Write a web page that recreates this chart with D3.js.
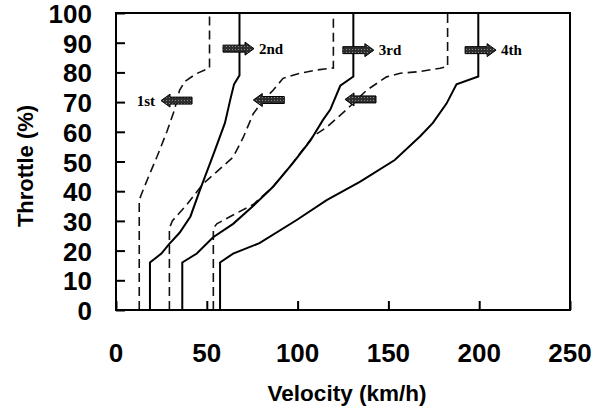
<!DOCTYPE html>
<html>
<head>
<meta charset="utf-8">
<script src="https://cdn.jsdelivr.net/npm/d3@7"></script>
<style>
  html, body { margin: 0; padding: 0; background: #fff; }
  svg { display: block; }
</style>
</head>
<body>
<svg id="chart" width="607" height="409"></svg>
<script>
// Shift schedule: velocity (km/h) vs throttle (%)
const xTicks = [0, 50, 100, 150, 200, 250];
const yTicks = [0, 10, 20, 30, 40, 50, 60, 70, 80, 90, 100];

// Upshift lines (solid): [velocity, throttle]
const up12 = [[18.7,0],[18.7,16],[25,19],[29,22],[35,26],[41,31.5],[46,40],[54,53],[60,63],[63,71],[65,76],[68,79],[68,100]];
const up23 = [[36.5,0],[36.5,16],[44.5,19],[53.5,24.5],[64.5,29],[75.5,35],[86.5,41.5],[97.5,49.5],[107,57],[114,64],[118,67.5],[123.5,75.5],[130.7,78.6],[130.7,100]];
const up34 = [[57.3,0],[57.3,16],[64.5,19],[79,22.5],[99.5,30.3],[116,37],[134.5,43.2],[153.5,50.5],[167.5,58.5],[174.5,63],[182,69.5],[187.5,76],[199.5,78.6],[199.5,100]];

// Downshift lines (dashed)
const down21 = [[12.8,0],[12.8,37],[14,39],[18,45],[22.5,51.5],[28,60],[32,67],[35,74],[38,77],[44,79.5],[51.5,81.5],[51.5,100]];
const down32 = [[29.4,0],[29.4,27.5],[31,30],[39,35.5],[48,42.5],[54.5,46],[64.5,51.5],[70,58],[75.5,66],[81,70.5],[86.5,74],[92,78],[101,79.7],[110.5,80.8],[119.7,81.5],[119.7,100]];
const down43 = [[53.6,0],[53.6,27.5],[55.5,29],[64.5,32],[75.5,35.5],[86.5,41.5],[96,48.5],[108.5,58.5],[116,61.5],[127,67.5],[138,74],[149,78.5],[156.5,79.7],[167.5,80.3],[178.5,81.4],[182.6,82],[182.6,100]];

const solidSeries = [up12, up23, up34];
const dashedSeries = [down21, down32, down43];

// Gear arrows: tip velocity, throttle, direction (+1 right, -1 left), label
const arrowTips = [24.8, 76, 75.6, 142, 126.1, 209.3];
const arrowThrottle = [70.5, 88, 70.7, 87.5, 70.9, 87.5];
const arrowDir = [-1, 1, -1, 1, -1, 1];
const arrowLabels = ["1st", "2nd", "", "3rd", "", "4th"];

const svg = d3.select("#chart");
const plotLeft = 116, plotRight = 570, plotTop = 13, plotBottom = 310;

const x = d3.scaleLinear().domain([0, 250]).range([plotLeft, plotRight]);
const y = d3.scaleLinear().domain([0, 100]).range([plotBottom, plotTop]);

// Inward tick marks
const xAxis = svg.append("g").attr("transform", `translate(0,${plotBottom})`)
  .call(d3.axisBottom(x).tickValues(xTicks).tickSize(-9).tickFormat(""));
xAxis.select(".domain").remove();
xAxis.selectAll("line").attr("stroke", "#000").attr("stroke-width", 2);

const yAxis = svg.append("g").attr("transform", `translate(${plotLeft},0)`)
  .call(d3.axisLeft(y).tickValues(yTicks).tickSize(-9).tickFormat(""));
yAxis.select(".domain").remove();
yAxis.selectAll("line").attr("stroke", "#000").attr("stroke-width", 2);

// Tick labels
const tickFont = "'Liberation Sans', Arial, sans-serif";
svg.append("g").selectAll("text").data(xTicks).join("text")
  .attr("x", d => x(d)).attr("y", 353)
  .attr("text-anchor", "middle").attr("dominant-baseline", "central")
  .attr("font-family", tickFont).attr("font-weight", "bold").attr("font-size", 26)
  .text(d => d);

svg.append("g").selectAll("text").data(yTicks).join("text")
  .attr("x", 92).attr("y", d => y(d) + 1)
  .attr("text-anchor", "end").attr("dominant-baseline", "central")
  .attr("font-family", tickFont).attr("font-weight", "bold").attr("font-size", 26)
  .text(d => d);

// Axis titles
svg.append("text")
  .attr("x", 347).attr("y", 401)
  .attr("text-anchor", "middle")
  .attr("font-family", tickFont).attr("font-weight", "bold").attr("font-size", 22.5)
  .text("Velocity (km/h)");

svg.append("text")
  .attr("transform", "translate(33,166) rotate(-90)")
  .attr("text-anchor", "middle")
  .attr("font-family", tickFont).attr("font-weight", "bold").attr("font-size", 22)
  .text("Throttle (%)");

// Shift lines
const line = d3.line().x(d => x(d[0])).y(d => y(d[1]));

svg.append("g").selectAll("path").data(dashedSeries).join("path")
  .attr("d", line).attr("fill", "none")
  .attr("stroke", "#111").attr("stroke-width", 1.6)
  .attr("stroke-dasharray", "9,5");

svg.append("g").selectAll("path").data(solidSeries).join("path")
  .attr("d", line).attr("fill", "none")
  .attr("stroke", "#000").attr("stroke-width", 2);

// Textured fill for arrows
const defs = svg.append("defs");
const pat = defs.append("pattern").attr("id", "stipple")
  .attr("width", 3).attr("height", 3).attr("patternUnits", "userSpaceOnUse");
pat.append("rect").attr("width", 3).attr("height", 3).attr("fill", "#2e2e2e");
pat.append("rect").attr("x", 1).attr("y", 1).attr("width", 1).attr("height", 1).attr("fill", "#8a8a8a");

// Block arrows: body length 22, head length 9
function arrowPath(tx, ty, dir) {
  const L = 31, H = 9, bh = 3.5, hh = 6.5;
  const tail = tx - dir * L, neck = tx - dir * H;
  return `M${tail},${ty - bh}L${neck},${ty - bh}L${neck},${ty - hh}L${tx},${ty}` +
         `L${neck},${ty + hh}L${neck},${ty + bh}L${tail},${ty + bh}Z`;
}

const arrows = arrowTips.map((v, i) => ({ v, t: arrowThrottle[i], dir: arrowDir[i], label: arrowLabels[i] }));
const ag = svg.append("g");
ag.selectAll("path").data(arrows).join("path")
  .attr("d", d => arrowPath(x(d.v), y(d.t), d.dir))
  .attr("fill", "url(#stipple)").attr("stroke", "#000").attr("stroke-width", 1);

ag.selectAll("text").data(arrows.filter(d => d.label)).join("text")
  .attr("x", d => d.dir < 0 ? x(d.v) - 6 : x(d.v) + 5)
  .attr("y", d => y(d.t) + 5)
  .attr("text-anchor", d => d.dir < 0 ? "end" : "start")
  .attr("font-family", "'Liberation Serif', 'Times New Roman', serif")
  .attr("font-weight", "bold").attr("font-size", 15)
  .text(d => d.label);

// Plot frame
svg.append("rect")
  .attr("x", plotLeft).attr("y", plotTop)
  .attr("width", plotRight - plotLeft).attr("height", plotBottom - plotTop)
  .attr("fill", "none").attr("stroke", "#000").attr("stroke-width", 2);
</script>
</body>
</html>
